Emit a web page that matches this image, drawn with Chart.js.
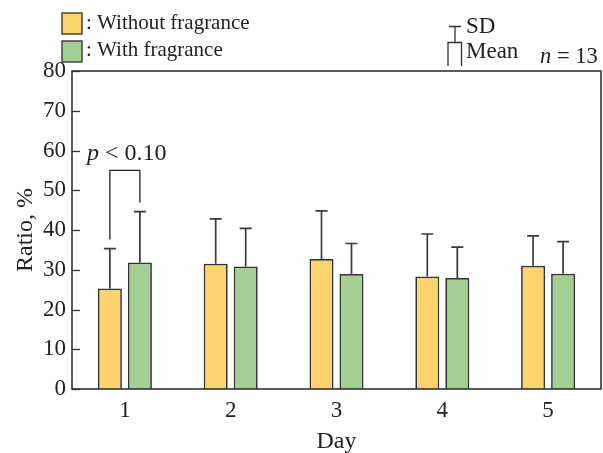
<!DOCTYPE html>
<html>
<head>
<meta charset="utf-8">
<script src="https://cdn.jsdelivr.net/npm/chart.js@4/dist/chart.umd.min.js"></script>
<style>
  html, body { margin: 0; padding: 0; background: #fff; }
  #wrap { width: 603px; height: 453px; }
</style>
</head>
<body>
<div id="wrap"><canvas id="chart" width="603" height="453"></canvas></div>
<script>
// ── Data ──
const days        = ['1', '2', '3', '4', '5'];
const withoutMean = [25.3, 31.5, 32.7, 28.3, 31.0];
const withoutSD   = [10.0, 11.3, 12.1, 10.7, 7.5];
const withMean    = [31.8, 30.8, 28.9, 27.9, 29.0];
const withSD      = [12.8, 9.6, 7.7, 7.8, 8.1];
const yTicks      = [0, 10, 20, 30, 40, 50, 60, 70, 80];
// significance bracket on day 1
const bracketDay  = 0;
const bracketTop  = 55;
const bracketGap  = 2.3;
const bracketText = 0.10;

const SERIF  = '"Liberation Serif", "Times New Roman", serif';
const INK    = '#222';
const LINE   = '#333';
const YELLOW = '#fdd36e';
const GREEN  = '#a3cf94';

// ── Plugin: frame, inward ticks, error bars, bracket, legend ──
const extras = {
    id: 'extras',
    afterDatasetsDraw(chart) {
        const { ctx, chartArea: a, scales: { y } } = chart;
        ctx.save();

        // error bars (upward only)
        ctx.strokeStyle = '#3a3a3a';
        ctx.lineWidth = 1.7;
        [withoutSD, withSD].forEach((sd, di) => {
            const means = di === 0 ? withoutMean : withMean;
            chart.getDatasetMeta(di).data.forEach((bar, i) => {
                const y0 = y.getPixelForValue(means[i]);
                const y1 = y.getPixelForValue(means[i] + sd[i]);
                ctx.beginPath();
                ctx.moveTo(bar.x, y0); ctx.lineTo(bar.x, y1);
                ctx.moveTo(bar.x - 6, y1); ctx.lineTo(bar.x + 6, y1);
                ctx.stroke();
            });
        });

        // bracket
        const b0 = chart.getDatasetMeta(0).data[bracketDay];
        const b1 = chart.getDatasetMeta(1).data[bracketDay];
        const top = y.getPixelForValue(bracketTop);
        ctx.strokeStyle = '#222';
        ctx.lineWidth = 1.3;
        ctx.beginPath();
        ctx.moveTo(b0.x, y.getPixelForValue(withoutMean[bracketDay] + withoutSD[bracketDay] + bracketGap));
        ctx.lineTo(b0.x, top);
        ctx.lineTo(b1.x, top);
        ctx.lineTo(b1.x, y.getPixelForValue(withMean[bracketDay] + withSD[bracketDay] + bracketGap));
        ctx.stroke();

        ctx.fillStyle = INK;
        ctx.textBaseline = 'middle';
        ctx.textAlign = 'left';
        ctx.font = 'italic 24px ' + SERIF;
        ctx.fillText('p', 87, 154);
        const pw = ctx.measureText('p ').width;
        ctx.font = '24px ' + SERIF;
        ctx.fillText('< ' + bracketText.toFixed(2), 87 + pw, 154);

        // frame
        ctx.strokeStyle = LINE;
        ctx.lineWidth = 1.6;
        ctx.strokeRect(a.left, a.top, a.right - a.left, a.bottom - a.top);

        // inward y ticks
        ctx.lineWidth = 1.3;
        yTicks.forEach(v => {
            const py = Math.round(y.getPixelForValue(v)) + 0.5;
            ctx.beginPath();
            ctx.moveTo(a.left, py); ctx.lineTo(a.left + 8, py);
            ctx.stroke();
        });

        // legend boxes
        ctx.lineWidth = 1.5;
        [[YELLOW, 13, ': Without fragrance', 23], [GREEN, 41, ': With fragrance', 50]].forEach(([c, by, t, ty]) => {
            ctx.fillStyle = c;
            ctx.fillRect(62, by, 20, 21);
            ctx.strokeStyle = '#444';
            ctx.strokeRect(62, by, 20, 21);
            ctx.fillStyle = INK;
            ctx.font = '21px ' + SERIF;
            ctx.fillText(t, 86, ty);
        });

        // SD / Mean key
        ctx.strokeStyle = '#333';
        ctx.lineWidth = 1.3;
        ctx.beginPath();
        ctx.moveTo(449, 26.5); ctx.lineTo(461, 26.5);
        ctx.moveTo(455, 26.5); ctx.lineTo(455, 42);
        ctx.moveTo(448, 66); ctx.lineTo(448, 42.5); ctx.lineTo(461.5, 42.5); ctx.lineTo(461.5, 66);
        ctx.stroke();
        ctx.fillStyle = INK;
        ctx.font = '23px ' + SERIF;
        ctx.fillText('SD', 466, 27);
        ctx.fillText('Mean', 466, 52);
        ctx.font = 'italic 22.5px ' + SERIF;
        ctx.fillText('n', 540, 57);
        const nw = ctx.measureText('n').width;
        ctx.font = '22.5px ' + SERIF;
        ctx.fillText(' = 13', 540 + nw, 57);

        ctx.restore();
    }
};

new Chart(document.getElementById('chart'), {
    type: 'bar',
    data: {
        labels: days,
        datasets: [
            { label: 'Without fragrance', data: withoutMean, backgroundColor: YELLOW, borderColor: '#333', borderWidth: 1.7 },
            { label: 'With fragrance',    data: withMean,    backgroundColor: GREEN,  borderColor: '#333', borderWidth: 1.7 }
        ]
    },
    options: {
        responsive: false,
        animation: false,
        categoryPercentage: 0.567,
        barPercentage: 0.8,
        layout: { padding: { top: 71, right: 2, left: 0, bottom: 0 } },
        plugins: { legend: { display: false }, tooltip: { enabled: false } },
        scales: {
            x: {
                grid: { display: false, drawTicks: false },
                border: { display: false },
                ticks: { color: INK, font: { family: SERIF, size: 23 }, padding: 8 },
                title: { display: true, text: 'Day', color: INK, font: { family: SERIF, size: 24 }, padding: { top: 0, bottom: -3 } },
                afterFit: s => { s.height = 64; }
            },
            y: {
                min: 0, max: 80,
                afterBuildTicks: s => { s.ticks = yTicks.map(v => ({ value: v })); },
                grid: { display: false, drawTicks: false },
                border: { display: false },
                ticks: { color: INK, font: { family: SERIF, size: 23 }, padding: 6 },
                title: { display: true, text: 'Ratio, %', color: INK, font: { family: SERIF, size: 24 }, padding: { top: 11, bottom: 0 } },
                afterFit: s => { s.width = 72; }
            }
        }
    },
    plugins: [extras]
});
</script>
</body>
</html>
